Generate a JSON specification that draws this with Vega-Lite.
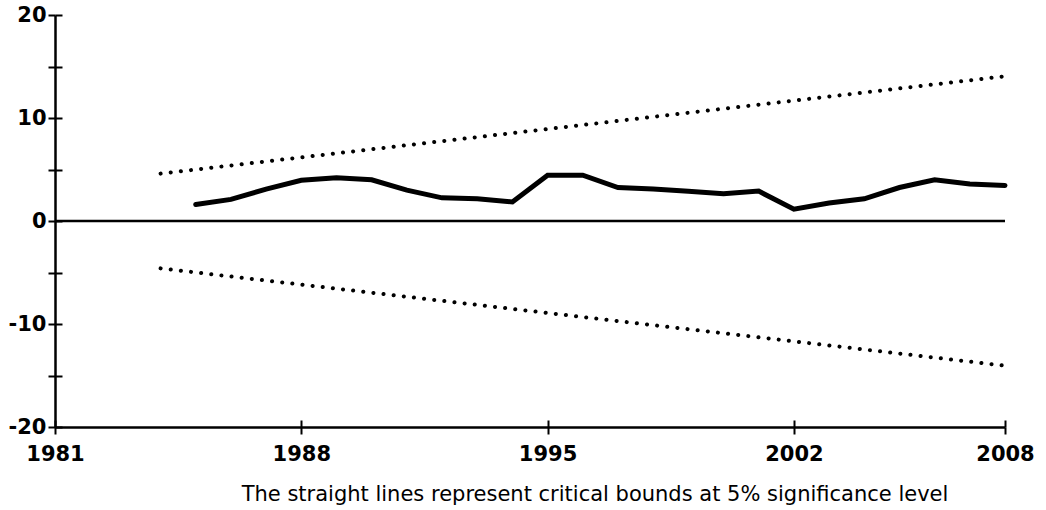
{
  "$schema": "https://vega.github.io/schema/vega-lite/v6.json",
  "width": 950,
  "height": 412,
  "autosize": {"type": "none"},
  "padding": {"left": 55, "top": 15, "right": 41, "bottom": 83},
  "background": "white",
  "title": {
    "text": "The straight lines represent critical bounds at 5% significance level",
    "orient": "bottom",
    "anchor": "middle",
    "dx": 65,
    "offset": 20,
    "font": "DejaVu Sans",
    "fontSize": 21,
    "fontWeight": "normal",
    "color": "black"
  },
  "datasets": {
    "cusum": [
      {"year": 1985, "cusum": 1.6},
      {"year": 1986, "cusum": 2.1},
      {"year": 1987, "cusum": 3.1},
      {"year": 1988, "cusum": 3.95},
      {"year": 1989, "cusum": 4.2},
      {"year": 1990, "cusum": 4.0},
      {"year": 1991, "cusum": 3.0},
      {"year": 1992, "cusum": 2.25},
      {"year": 1993, "cusum": 2.15},
      {"year": 1994, "cusum": 1.85},
      {"year": 1995, "cusum": 4.45},
      {"year": 1996, "cusum": 4.45},
      {"year": 1997, "cusum": 3.25},
      {"year": 1998, "cusum": 3.1},
      {"year": 1999, "cusum": 2.9},
      {"year": 2000, "cusum": 2.65},
      {"year": 2001, "cusum": 2.9},
      {"year": 2002, "cusum": 1.15},
      {"year": 2003, "cusum": 1.75},
      {"year": 2004, "cusum": 2.15},
      {"year": 2005, "cusum": 3.25},
      {"year": 2006, "cusum": 4.0},
      {"year": 2007, "cusum": 3.6},
      {"year": 2008, "cusum": 3.45}
    ],
    "bounds": [
      {"year": 1984, "bound": "upper", "value": 4.6},
      {"year": 2008, "bound": "upper", "value": 14.05},
      {"year": 1984, "bound": "lower", "value": -4.6},
      {"year": 2008, "bound": "lower", "value": -14.05}
    ]
  },
  "layer": [
    {
      "data": {"values": [{"zero": 0}]},
      "mark": {"type": "rule", "color": "black", "strokeWidth": 2.5},
      "encoding": {
        "y": {"field": "zero", "type": "quantitative", "scale": {"domain": [-20, 20], "nice": false, "zero": false}, "axis": null}
      }
    },
    {
      "data": {"name": "bounds"},
      "mark": {"type": "line", "color": "black", "strokeWidth": 4, "strokeCap": "round", "strokeDash": [0.1, 10.1]},
      "encoding": {
        "x": {"field": "year", "type": "quantitative", "scale": {"domain": [1981, 2008], "nice": false, "zero": false},
          "axis": {"orient": "bottom", "values": [1981, 1988, 1995, 2002, 2008], "tickSize": -7, "labels": false, "domain": false, "title": null, "grid": false}},
        "y": {"field": "value", "type": "quantitative", "scale": {"domain": [-20, 20], "nice": false, "zero": false},
          "axis": {"orient": "left", "values": [-20, -15, -10, -5, 0, 5, 10, 15, 20], "tickSize": -7, "labels": false, "domain": false, "title": null, "grid": false}},
        "detail": {"field": "bound", "type": "nominal"}
      }
    },
    {
      "data": {"name": "cusum"},
      "mark": {"type": "line", "color": "black", "strokeWidth": 5, "strokeCap": "round"},
      "encoding": {
        "x": {"field": "year", "type": "quantitative", "scale": {"domain": [1981, 2008], "nice": false, "zero": false},
          "axis": {"orient": "bottom", "values": [1981, 1988, 1995, 2002, 2008], "format": "d", "tickSize": 7, "labelPadding": 9, "title": null, "grid": false}},
        "y": {"field": "cusum", "type": "quantitative", "scale": {"domain": [-20, 20], "nice": false, "zero": false},
          "axis": {"orient": "left", "values": [-20, -15, -10, -5, 0, 5, 10, 15, 20], "labelExpr": "datum.value % 10 == 0 ? '' + datum.value : ''", "tickSize": 7, "labelPadding": 2, "title": null, "grid": false}}
      }
    }
  ],
  "resolve": {"axis": {"x": "independent", "y": "independent"}},
  "config": {
    "view": {"stroke": null},
    "axis": {
      "domainColor": "black",
      "domainWidth": 2.5,
      "tickColor": "black",
      "tickWidth": 2,
      "labelColor": "black",
      "labelFont": "DejaVu Sans",
      "labelFontWeight": "bold",
      "labelFontSize": 21,
      "labelFlush": false,
      "labelOverlap": false
    }
  }
}
